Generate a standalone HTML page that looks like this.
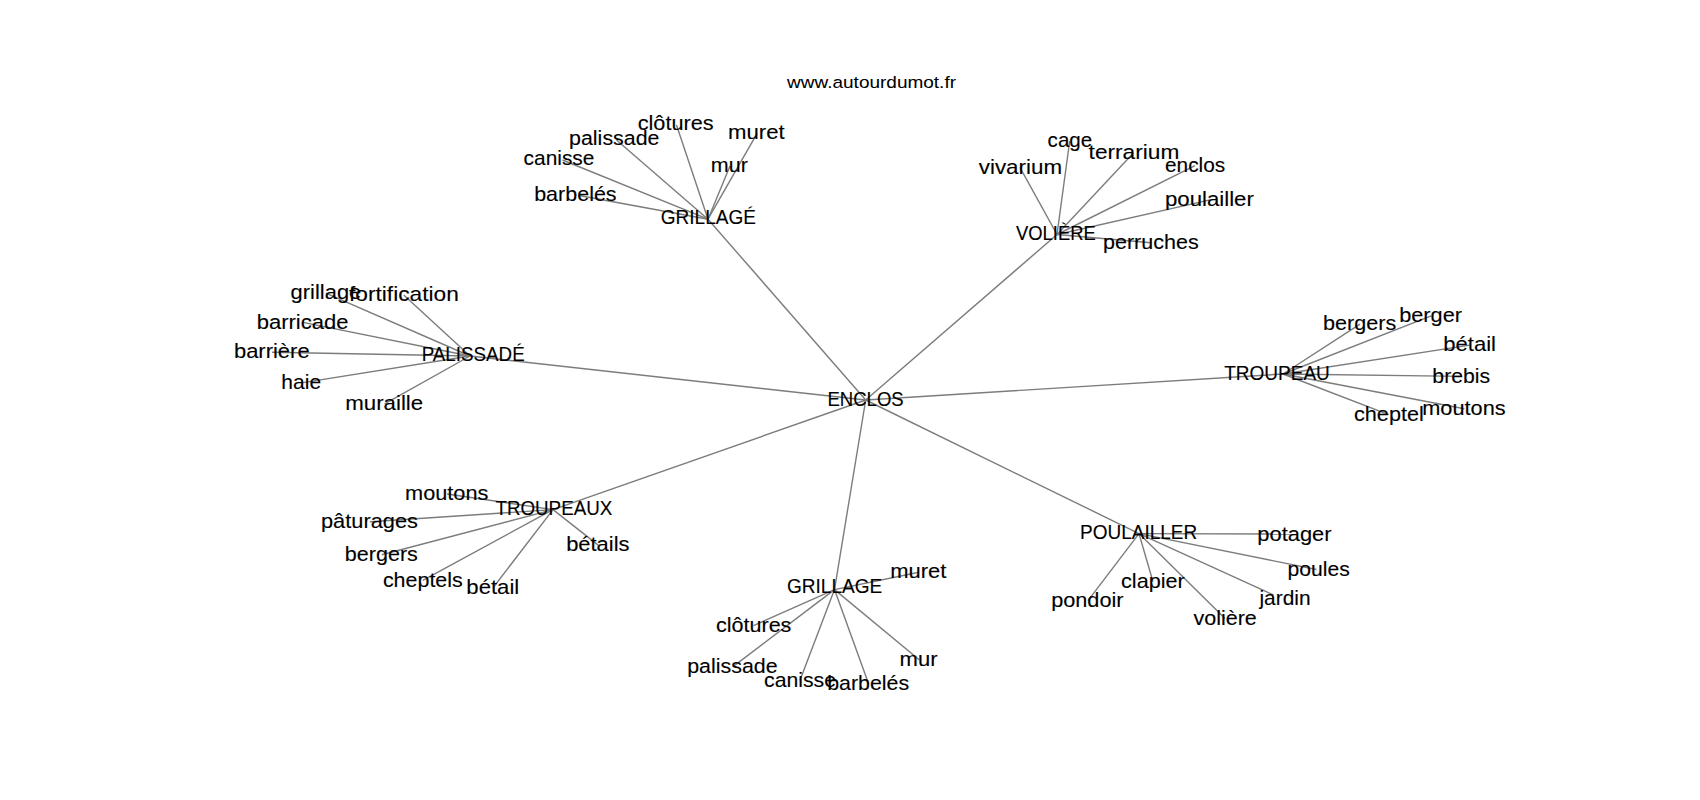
<!DOCTYPE html>
<html><head><meta charset="utf-8"><title>ENCLOS</title>
<style>
html,body{margin:0;padding:0;background:#fff;}
body{width:1700px;height:800px;overflow:hidden;}
svg{display:block;}
text{font-family:"Liberation Sans", sans-serif;fill:#000;stroke:#000;stroke-width:0.12px;}
</style></head><body>
<svg width="1700" height="800" viewBox="0 0 1700 800">
<rect width="1700" height="800" fill="#fff"/>
<g stroke="#7c7c7c" stroke-width="1.4" stroke-linecap="butt">
<line x1="865.7" y1="400.0" x2="708.0" y2="219.2"/>
<line x1="865.7" y1="400.0" x2="1057.0" y2="234.5"/>
<line x1="865.7" y1="400.0" x2="470.0" y2="356.0"/>
<line x1="865.7" y1="400.0" x2="1283.0" y2="374.0"/>
<line x1="865.7" y1="400.0" x2="553.0" y2="509.6"/>
<line x1="865.7" y1="400.0" x2="834.5" y2="589.6"/>
<line x1="865.7" y1="400.0" x2="1139.0" y2="533.6"/>
<line x1="708.0" y1="219.2" x2="676.5" y2="125.0"/>
<line x1="708.0" y1="219.2" x2="757.1" y2="133.3"/>
<line x1="708.0" y1="219.2" x2="616.5" y2="140.0"/>
<line x1="708.0" y1="219.2" x2="562.5" y2="160.0"/>
<line x1="708.0" y1="219.2" x2="730.0" y2="165.9"/>
<line x1="708.0" y1="219.2" x2="579.0" y2="195.5"/>
<line x1="1057.0" y1="234.5" x2="1069.7" y2="141.0"/>
<line x1="1057.0" y1="234.5" x2="1133.4" y2="153.0"/>
<line x1="1057.0" y1="234.5" x2="1019.9" y2="167.4"/>
<line x1="1057.0" y1="234.5" x2="1195.0" y2="165.7"/>
<line x1="1057.0" y1="234.5" x2="1210.0" y2="199.9"/>
<line x1="1057.0" y1="234.5" x2="1151.2" y2="242.8"/>
<line x1="470.0" y1="356.0" x2="325.8" y2="293.2"/>
<line x1="470.0" y1="356.0" x2="403.7" y2="295.0"/>
<line x1="470.0" y1="356.0" x2="303.0" y2="322.4"/>
<line x1="470.0" y1="356.0" x2="272.1" y2="352.2"/>
<line x1="470.0" y1="356.0" x2="301.5" y2="382.9"/>
<line x1="470.0" y1="356.0" x2="384.6" y2="403.8"/>
<line x1="1283.0" y1="374.0" x2="1360.0" y2="324.1"/>
<line x1="1283.0" y1="374.0" x2="1431.2" y2="315.9"/>
<line x1="1283.0" y1="374.0" x2="1469.8" y2="345.1"/>
<line x1="1283.0" y1="374.0" x2="1461.7" y2="376.4"/>
<line x1="1283.0" y1="374.0" x2="1388.7" y2="414.7"/>
<line x1="1283.0" y1="374.0" x2="1464.3" y2="408.7"/>
<line x1="553.0" y1="509.6" x2="447.1" y2="494.0"/>
<line x1="553.0" y1="509.6" x2="369.9" y2="521.8"/>
<line x1="553.0" y1="509.6" x2="381.8" y2="554.7"/>
<line x1="553.0" y1="509.6" x2="422.8" y2="580.4"/>
<line x1="553.0" y1="509.6" x2="493.1" y2="587.7"/>
<line x1="553.0" y1="509.6" x2="598.2" y2="545.1"/>
<line x1="834.5" y1="589.6" x2="919.0" y2="572.2"/>
<line x1="834.5" y1="589.6" x2="753.5" y2="625.6"/>
<line x1="834.5" y1="589.6" x2="732.7" y2="666.9"/>
<line x1="834.5" y1="589.6" x2="799.9" y2="680.4"/>
<line x1="834.5" y1="589.6" x2="868.6" y2="683.7"/>
<line x1="834.5" y1="589.6" x2="919.2" y2="659.8"/>
<line x1="1139.0" y1="533.6" x2="1295.0" y2="534.0"/>
<line x1="1139.0" y1="533.6" x2="1316.5" y2="569.5"/>
<line x1="1139.0" y1="533.6" x2="1153.0" y2="581.8"/>
<line x1="1139.0" y1="533.6" x2="1088.0" y2="600.6"/>
<line x1="1139.0" y1="533.6" x2="1225.0" y2="618.5"/>
<line x1="1139.0" y1="533.6" x2="1273.5" y2="595.0"/>
</g>
<g>
<text transform="translate(827.48 405.90) scale(0.9172 1)" font-size="20.2">ENCLOS</text>
<text transform="translate(660.76 224.10) scale(0.9426 1)" font-size="20.2">GRILLAGÉ</text>
<text transform="translate(1015.90 240.40) scale(0.9121 1)" font-size="20.2">VOLIÈRE</text>
<text transform="translate(421.67 361.40) scale(0.9310 1)" font-size="20.2">PALISSADÉ</text>
<text transform="translate(1224.20 379.60) scale(0.9419 1)" font-size="20.2">TROUPEAU</text>
<text transform="translate(495.40 514.60) scale(0.9305 1)" font-size="20.2">TROUPEAUX</text>
<text transform="translate(786.96 592.90) scale(0.9436 1)" font-size="20.2">GRILLAGE</text>
<text transform="translate(1080.06 538.60) scale(0.9401 1)" font-size="20.2">POULAILLER</text>
<text transform="translate(637.70 130.30) scale(1.0583 1)" font-size="20.5">clôtures</text>
<text transform="translate(728.02 139.40) scale(1.0831 1)" font-size="20.5">muret</text>
<text transform="translate(569.06 145.10) scale(1.0444 1)" font-size="20.5">palissade</text>
<text transform="translate(523.60 165.10) scale(1.0202 1)" font-size="20.5">canisse</text>
<text transform="translate(710.85 172.00) scale(1.0500 1)" font-size="20.5">mur</text>
<text transform="translate(534.15 200.80) scale(1.0493 1)" font-size="20.5">barbelés</text>
<text transform="translate(1047.60 147.10) scale(1.0034 1)" font-size="20.5">cage</text>
<text transform="translate(1088.60 159.10) scale(1.1071 1)" font-size="20.5">terrarium</text>
<text transform="translate(978.80 173.50) scale(1.0912 1)" font-size="20.5">vivarium</text>
<text transform="translate(1165.00 171.80) scale(1.0168 1)" font-size="20.5">enclos</text>
<text transform="translate(1164.92 206.00) scale(1.0847 1)" font-size="20.5">poulailler</text>
<text transform="translate(1102.95 248.90) scale(1.0511 1)" font-size="20.5">perruches</text>
<text transform="translate(290.60 299.30) scale(1.0701 1)" font-size="20.5">grillage</text>
<text transform="translate(349.00 301.10) scale(1.1081 1)" font-size="20.5">fortification</text>
<text transform="translate(256.73 328.50) scale(1.0742 1)" font-size="20.5">barricade</text>
<text transform="translate(233.93 358.30) scale(1.0717 1)" font-size="20.5">barrière</text>
<text transform="translate(281.37 389.00) scale(1.0253 1)" font-size="20.5">haie</text>
<text transform="translate(345.21 409.90) scale(1.0871 1)" font-size="20.5">muraille</text>
<text transform="translate(1322.95 330.20) scale(1.0548 1)" font-size="20.5">bergers</text>
<text transform="translate(1399.14 322.00) scale(1.0611 1)" font-size="20.5">berger</text>
<text transform="translate(1443.22 351.20) scale(1.0768 1)" font-size="20.5">bétail</text>
<text transform="translate(1432.36 382.50) scale(1.0351 1)" font-size="20.5">brebis</text>
<text transform="translate(1354.00 420.80) scale(1.0572 1)" font-size="20.5">cheptel</text>
<text transform="translate(1422.24 414.80) scale(1.0610 1)" font-size="20.5">moutons</text>
<text transform="translate(405.04 500.10) scale(1.0610 1)" font-size="20.5">moutons</text>
<text transform="translate(320.94 527.90) scale(1.0642 1)" font-size="20.5">pâturages</text>
<text transform="translate(344.85 560.80) scale(1.0519 1)" font-size="20.5">bergers</text>
<text transform="translate(382.90 586.50) scale(1.0472 1)" font-size="20.5">cheptels</text>
<text transform="translate(466.32 593.80) scale(1.0811 1)" font-size="20.5">bétail</text>
<text transform="translate(566.13 551.20) scale(1.0705 1)" font-size="20.5">bétails</text>
<text transform="translate(890.23 578.30) scale(1.0734 1)" font-size="20.5">muret</text>
<text transform="translate(715.90 631.70) scale(1.0527 1)" font-size="20.5">clôtures</text>
<text transform="translate(687.16 673.00) scale(1.0444 1)" font-size="20.5">palissade</text>
<text transform="translate(764.00 686.50) scale(1.0375 1)" font-size="20.5">canisse</text>
<text transform="translate(827.16 689.80) scale(1.0441 1)" font-size="20.5">barbelés</text>
<text transform="translate(899.62 665.90) scale(1.0761 1)" font-size="20.5">mur</text>
<text transform="translate(1257.33 541.10) scale(1.0684 1)" font-size="20.5">potager</text>
<text transform="translate(1287.47 575.60) scale(1.0328 1)" font-size="20.5">poules</text>
<text transform="translate(1121.00 587.90) scale(1.0568 1)" font-size="20.5">clapier</text>
<text transform="translate(1051.14 606.70) scale(1.0598 1)" font-size="20.5">pondoir</text>
<text transform="translate(1193.40 624.60) scale(1.0519 1)" font-size="20.5">volière</text>
<text transform="translate(1259.42 604.80) scale(1.0190 1)" font-size="20.5">jardin</text>
<text transform="translate(787.12 88.40) scale(1.1179 1)" font-size="17.0" style="stroke-width:0.04px">www.autourdumot.fr</text>
</g>
</svg>
</body></html>
